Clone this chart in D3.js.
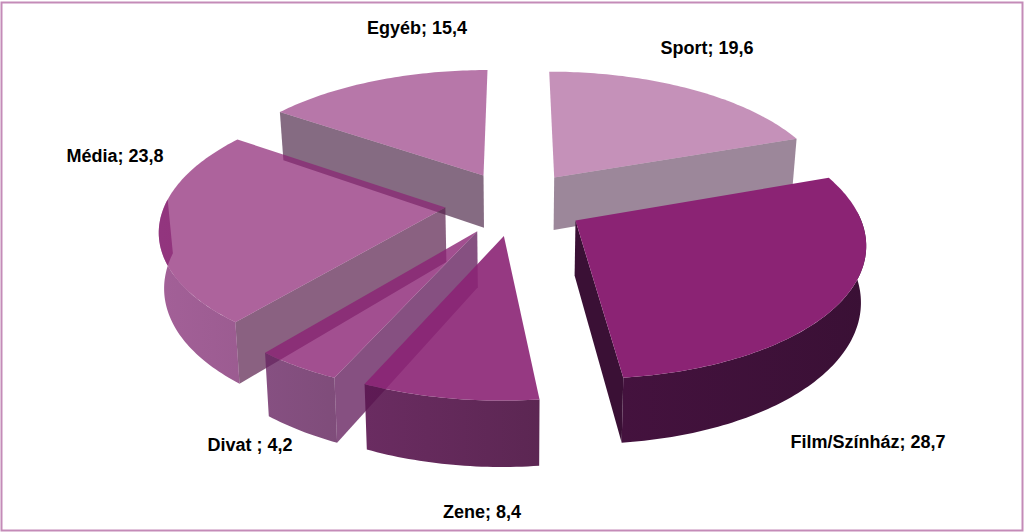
<!DOCTYPE html>
<html>
<head>
<meta charset="utf-8">
<script src="https://cdn.jsdelivr.net/npm/d3@7"></script>
<style>
html, body { margin: 0; padding: 0; background: #fff; }
svg { display: block; }
text { font-family: "Liberation Sans", Arial, sans-serif; font-weight: bold; font-size: 18px; fill: #000; }
</style>
</head>
<body>
<svg width="1024" height="532"></svg>
<script>
/* data, clockwise from 12 o'clock */
var categories = ["Sport", "Film/Színház", "Zene", "Divat ", "Média", "Egyéb"];
var values = [19.6, 28.7, 8.4, 4.2, 23.8, 15.4];
var valueLabels = ["19,6", "28,7", "8,4", "4,2", "23,8", "15,4"];

/* styles per slice */
var opacities = [0.5, 1, 0.9, 0.8, 0.71, 0.62];
var flatWalls = ["#3a1035", "#3a1035", "#3a1035", "#682462", "#5a204d", "#3a1035"];
var arcLeft = ["#3a1035", "#44123e", "#5a1550", "#682462", "#7d1f6d", "#3a1035"];
var arcRight = ["#3a1035", "#3a1035", "#4a0f40", "#5f2059", "#731964", "#3a1035"];
var topColor = "#8b2374";

/* label centres */
var labelX = [707, 868, 482, 250, 115, 417];
var labelY = [49, 443, 513, 446, 157, 29];

/* the fake 3d view */
var cx = 515, cy = 203, R = 280, tilt = 0.46, persp = 0.15, explode = 0.25, depth = 54, bottomShrink = 0.985;

var svg = d3.select("svg");
var defs = svg.append("defs");

svg.append("rect")
	.attr("x", 1.5).attr("y", 2.5)
	.attr("width", 1021).attr("height", 528)
	.attr("fill", "#fff")
	.attr("stroke", "#c48bb8")
	.attr("stroke-width", 2);

var rows = categories.map(function(c, i) { return {name: c, value: values[i], i: i}; });

var pie = d3.pie()
	.sort(null)
	.value(function(d) { return d.value; })
	.startAngle(0)
	.endAngle(2 * Math.PI);

var arcs = pie(rows);

// ground plane (u, v) -> screen, v grows towards the viewer
function project(u, v, bottom) {
	var s = 1 / (1 - persp * v);
	var x = R * u * s, y = R * tilt * v * s;
	if (bottom) {
		x *= bottomShrink;
		y += depth * s;
	}
	return [cx + x, cy + y];
}

function slicePoint(a, angle, r, bottom) {
	var mid = (a.startAngle + a.endAngle) / 2;
	var u = explode * Math.sin(mid) + r * Math.sin(angle);
	var v = -explode * Math.cos(mid) - r * Math.cos(angle);
	return project(u, v, bottom);
}

function arcAngles(from, to) {
	var n = Math.max(2, Math.ceil((to - from) / (Math.PI / 180)));
	return d3.range(n + 1).map(function(k) { return from + (to - from) * k / n; });
}

var line = d3.line();

function closed(pts) { return line(pts) + "Z"; }

// back to front
var order = [5, 0, 4, 3, 2, 1];

order.forEach(function(idx) {
	var a = arcs[idx];
	var g = svg.append("g").attr("class", "slice");
	var op = opacities[idx];

	// straight wall, only the side that faces us
	var wallAngle = null;
	if (Math.sin(a.startAngle) < -0.01) wallAngle = a.startAngle;
	else if (Math.sin(a.endAngle) > 0.01) wallAngle = a.endAngle;
	if (wallAngle !== null) {
		g.append("path")
			.attr("d", closed([
				slicePoint(a, wallAngle, 0, false),
				slicePoint(a, wallAngle, 1, false),
				slicePoint(a, wallAngle, 1, true),
				slicePoint(a, wallAngle, 0, true)
			]))
			.attr("fill", flatWalls[idx])
			.attr("fill-opacity", op);
	}

	// outer wall
	var from = Math.max(a.startAngle, Math.PI * 0.48);
	var to = Math.min(a.endAngle, Math.PI * 1.52);
	if (to > from) {
		var angs = arcAngles(from, to);
		var wallPts = angs.map(function(t) { return slicePoint(a, t, 1, false); })
			.concat(angs.slice().reverse().map(function(t) { return slicePoint(a, t, 1, true); }));
		var gid = "wall" + idx;
		var grad = defs.append("linearGradient").attr("id", gid);
		grad.append("stop").attr("offset", "0%").attr("stop-color", arcLeft[idx]);
		grad.append("stop").attr("offset", "100%").attr("stop-color", arcRight[idx]);
		g.append("path")
			.attr("d", closed(wallPts))
			.attr("fill", "url(#" + gid + ")")
			.attr("fill-opacity", op);
	}

	// top face
	var topPts = [slicePoint(a, a.startAngle, 0, false)]
		.concat(arcAngles(a.startAngle, a.endAngle).map(function(t) { return slicePoint(a, t, 1, false); }));
	g.append("path")
		.attr("d", closed(topPts))
		.attr("fill", topColor)
		.attr("fill-opacity", op);
});

svg.selectAll("text.label")
	.data(rows)
	.enter().append("text")
	.attr("class", "label")
	.attr("x", function(d) { return labelX[d.i]; })
	.attr("y", function(d) { return labelY[d.i]; })
	.attr("text-anchor", "middle")
	.attr("dominant-baseline", "middle")
	.text(function(d) { return d.name + "; " + valueLabels[d.i]; });
</script>
</body>
</html>
